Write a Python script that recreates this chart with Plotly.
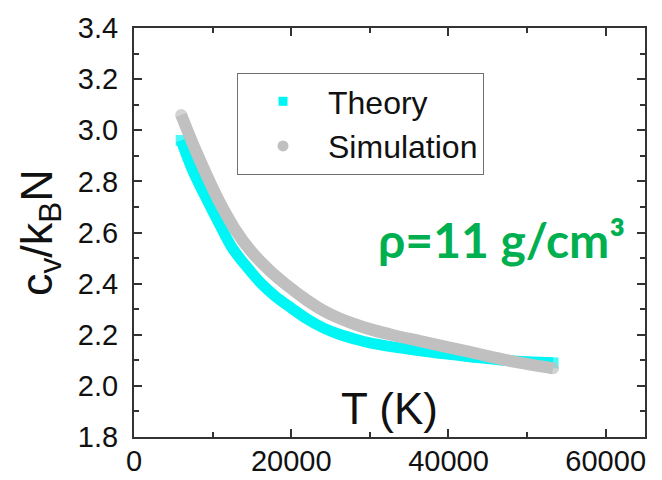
import plotly.graph_objects as go

# Heat capacity per particle, c_v/(k_B N), versus temperature at rho = 11 g/cm^3
T_theory = [6000, 7500, 9300, 11000, 12600, 14500, 16200, 18000, 20000,
            22000, 24000, 26000, 28000, 30000, 36400, 42700, 47800, 53300]
cv_theory = [2.96, 2.84, 2.727, 2.625, 2.535, 2.46, 2.40, 2.35, 2.305,
             2.262, 2.228, 2.203, 2.184, 2.168, 2.137, 2.114, 2.098, 2.090]

T_sim = [6000, 8000, 10700, 12800, 14800, 17300, 19600, 22000, 24000,
         26000, 28000, 30000, 33000, 36400, 42700, 47800, 53300]
cv_sim = [3.06, 2.91, 2.73, 2.615, 2.53, 2.45, 2.39, 2.335, 2.296,
          2.266, 2.242, 2.222, 2.198, 2.175, 2.133, 2.098, 2.069]

x_ticks = [0, 20000, 40000, 60000]
x_ticktext = ["0", "20000", "40000", "60000"]
y_ticks = [1.8, 2.0, 2.2, 2.4, 2.6, 2.8, 3.0, 3.2, 3.4]

CYAN = "#00F5F5"
GREY = "#C0C0C0"
AXIS = "#333333"
FONT = "Liberation Sans, Arial, sans-serif"


def end_sizes(n, s):
    """Marker sizes that only decorate the two ends of a thick curve."""
    return [s] + [0] * (n - 2) + [s]


fig = go.Figure()

fig.add_trace(go.Scatter(
    x=T_theory, y=cv_theory, mode="lines+markers",
    line=dict(color=CYAN, width=11, shape="spline", smoothing=1.0),
    marker=dict(symbol="square", color=CYAN, size=end_sizes(len(T_theory), 11),
                line=dict(width=0)),
    showlegend=False, legendgroup="theory",
))
fig.add_trace(go.Scatter(
    x=T_sim, y=cv_sim, mode="lines+markers",
    line=dict(color=GREY, width=12, shape="spline", smoothing=1.0),
    marker=dict(symbol="circle", color=GREY, size=end_sizes(len(T_sim), 12),
                line=dict(width=0)),
    showlegend=False, legendgroup="sim",
))

# legend entries show only the symbol
fig.add_trace(go.Scatter(
    x=[None], y=[None], mode="markers", name="Theory", legendgroup="theory",
    marker=dict(symbol="square", color=CYAN, size=9),
))
fig.add_trace(go.Scatter(
    x=[None], y=[None], mode="markers", name="Simulation", legendgroup="sim",
    marker=dict(symbol="circle", color=GREY, size=11),
))

axis_common = dict(
    showline=True, linecolor=AXIS, linewidth=2, mirror="allticks",
    ticks="inside", ticklen=8, tickwidth=2, tickcolor=AXIS,
    showgrid=False, zeroline=False, automargin=False,
    tickfont=dict(family=FONT, size=29, color="#111111"),
)

fig.update_xaxes(
    range=[0, 65000], tickvals=x_ticks, ticktext=x_ticktext,
    minor=dict(dtick=10000, ticks="inside", ticklen=5, tickwidth=2, tickcolor=AXIS),
    ticklabelstandoff=-3,
    **axis_common,
)
fig.update_yaxes(
    range=[1.8, 3.4], tickvals=y_ticks, tickformat=".1f",
    minor=dict(dtick=0.1, ticks="inside", ticklen=5, tickwidth=2, tickcolor=AXIS),
    ticklabelstandoff=8,
    **axis_common,
)

fig.add_annotation(
    text="T (K)", xref="paper", yref="paper", x=0.5, y=0.07,
    xanchor="center", yanchor="middle", showarrow=False,
    font=dict(family=FONT, size=44, color="#111111"),
)
fig.add_annotation(
    text="c<sub>v</sub>/k<sub>B</sub>N", xref="paper", yref="paper",
    x=-0.185, y=0.5, xanchor="center", yanchor="middle", showarrow=False,
    textangle=-90, font=dict(family=FONT, size=45, color="#111111"),
)
fig.add_annotation(
    text="ρ=11 g/cm³", xref="paper", yref="paper", x=0.72, y=0.482,
    xanchor="center", yanchor="middle", showarrow=False,
    font=dict(family="Lato, Open Sans, sans-serif", size=48, color="#00B050",
              weight="bold"),
)

fig.update_layout(
    width=662, height=480,
    margin=dict(l=134, r=17, t=28, b=43),
    paper_bgcolor="white", plot_bgcolor="white",
    legend=dict(
        x=0.2016, y=0.89, xanchor="left", yanchor="top",
        bordercolor="#707070", borderwidth=1, bgcolor="white",
        font=dict(family=FONT, size=32, color="#111111"),
        itemwidth=80, itemsizing="trace", tracegroupgap=0,
    ),
)

fig.write_html("out.html")
